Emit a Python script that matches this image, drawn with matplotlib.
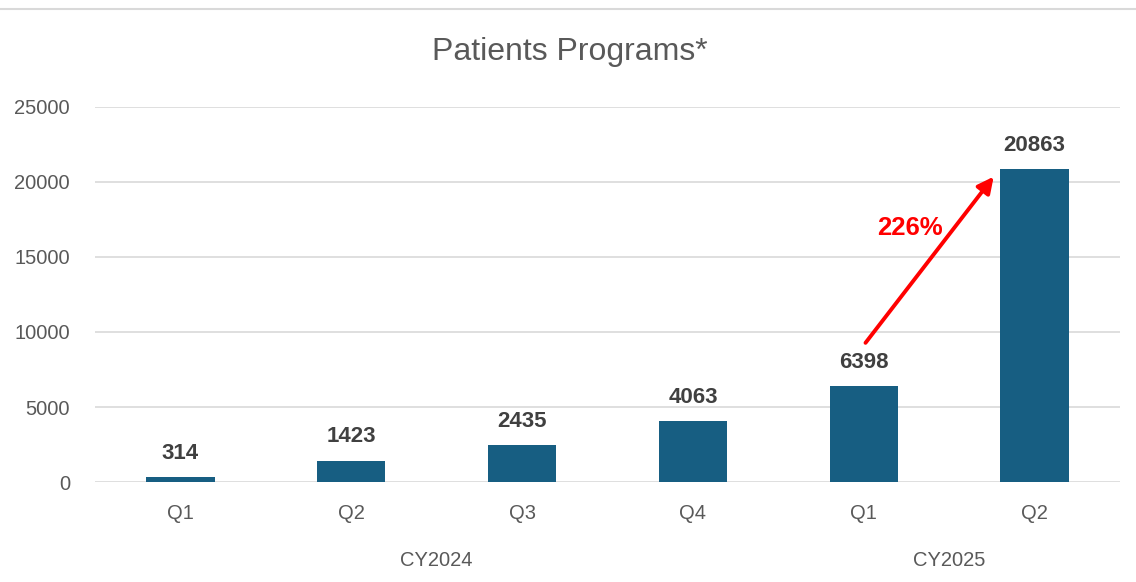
import matplotlib.pyplot as plt
from matplotlib.lines import Line2D

quarters = ["Q1", "Q2", "Q3", "Q4", "Q1", "Q2"]
patients = [314, 1423, 2435, 4063, 6398, 20863]
years = ["CY2024", "CY2025"]
year_spans = [(0, 3), (4, 5)]
growth_label = "226%"

bar_color = "#175E82"
text_gray = "#595959"
label_gray = "#404040"

fig = plt.figure(figsize=(11.36, 5.82), dpi=100)
ax = fig.add_axes([0.0836, 0.1718, 0.9024, 0.6444])

x = range(len(patients))
ax.bar(x, patients, width=0.4, color=bar_color, zorder=3)
ax.set_xlim(-0.5, len(patients) - 0.5)
ax.set_ylim(0, 25000)
ax.set_yticks(range(0, 25001, 5000))
ax.grid(axis="y", color="#D9D9D9", linewidth=1.2, zorder=0)
for s in ax.spines.values():
    s.set_visible(False)
ax.tick_params(length=0)
ax.tick_params(axis="y", pad=18, labelsize=14.5, labelcolor=text_gray)
ax.tick_params(axis="x", pad=16, labelsize=14.5, labelcolor=text_gray)
ax.set_xticks(list(x))
ax.set_xticklabels(quarters, family="Liberation Sans")
for lab in ax.get_yticklabels():
    lab.set_family("Liberation Sans")

# value labels
for i, v in enumerate(patients):
    ax.annotate(str(v), (i, v), xytext=(0, 9.5), textcoords="offset points",
                ha="center", va="bottom", fontsize=16, fontweight="bold",
                color=label_gray, family="Liberation Sans")

# year labels
for name, (a, b) in zip(years, year_spans):
    ax.annotate(name, ((a + b) / 2, 0), xytext=(0, -78), textcoords="offset pixels",
                ha="center", va="center", fontsize=14.5, color=text_gray,
                family="Liberation Sans", xycoords="data")

# growth arrow
ax.annotate("", xy=(4.77, 20500), xytext=(4.0, 9130),
            arrowprops=dict(arrowstyle="-|>", color="red", lw=2.8, mutation_scale=24),
            zorder=5)
ax.text(4.27, 16950, growth_label, color="red", fontsize=18.5, fontweight="bold",
        ha="center", va="center", family="Liberation Sans")

fig.text(0.502, 0.91, "Patients Programs*", ha="center", va="center",
         fontsize=23, color=text_gray, family="Liberation Sans")
fig.add_artist(Line2D([0, 1], [1 - 9 / 582, 1 - 9 / 582], color="#D9D9D9",
                      lw=1.5, transform=fig.transFigure))

fig.savefig("out.png", dpi=100)
